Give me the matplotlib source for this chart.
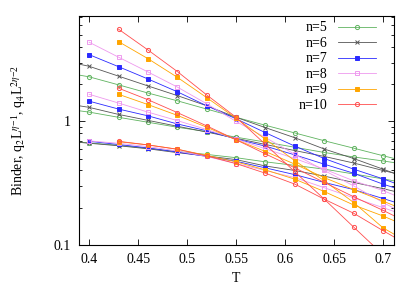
import numpy as np
import matplotlib
matplotlib.use("Agg")
import matplotlib.pyplot as plt
from matplotlib.ticker import LogLocator, NullFormatter, FixedLocator, FixedFormatter

plt.rcParams['font.family'] = ['Liberation Serif', 'DejaVu Serif']
plt.rcParams['mathtext.fontset'] = 'stix'

nan = np.nan
T = [0.37, 0.40, 0.43, 0.46, 0.49, 0.52, 0.55, 0.58, 0.61, 0.64, 0.67, 0.70, 0.73]
sizes = [5, 6, 7, 8, 9, 10]

# Binder cumulant
binder = {
    5:  [0.70, 0.67, 0.64, 0.605, 0.57, 0.54, 0.508, 0.47, 0.44, 0.41, 0.375, 0.342, 0.31],
    6:  [0.70, 0.665, 0.635, 0.60, 0.558, 0.525, 0.49, 0.435, 0.40, 0.36, 0.32, 0.285, 0.25],
    7:  [nan, 0.69, 0.65, 0.61, 0.565, 0.52, 0.475, 0.42, 0.37, 0.32, 0.28, 0.237, 0.20],
    8:  [nan, 0.695, 0.665, 0.625, 0.575, 0.52, 0.455, 0.40, 0.35, 0.29, 0.24, 0.20, 0.165],
    9:  [nan, nan, 0.685, 0.645, 0.595, 0.53, 0.47, 0.404, 0.34, 0.27, 0.21, 0.171, 0.135],
    10: [nan, nan, 0.69, 0.645, 0.595, 0.525, 0.455, 0.38, 0.31, 0.234, 0.18, 0.13, 0.095],
}
# q2 L^(eta-1)
q2 = {
    5:  [1.28, 1.19, 1.08, 0.985, 0.897, 0.826, 0.745, 0.68, 0.617, 0.56, 0.515, 0.478, 0.44],
    6:  [1.42, 1.30, 1.14, 1.02, 0.914, 0.82, 0.73, 0.65, 0.58, 0.52, 0.46, 0.40, 0.35],
    7:  [nan, 1.46, 1.26, 1.11, 0.954, 0.84, 0.72, 0.63, 0.535, 0.45, 0.38, 0.31, 0.26],
    8:  [nan, 1.66, 1.41, 1.19, 1.015, 0.86, 0.72, 0.60, 0.50, 0.41, 0.33, 0.275, 0.22],
    9:  [nan, nan, 1.66, 1.37, 1.12, 0.897, 0.71, 0.57, 0.45, 0.35, 0.28, 0.226, 0.18],
    10: [nan, nan, 1.86, 1.50, 1.18, 0.92, 0.71, 0.545, 0.42, 0.32, 0.245, 0.19, 0.145],
}
# q4 L^(2eta-2)
q4 = {
    5:  [2.53, 2.30, 1.98, 1.70, 1.47, 1.26, 1.08, 0.93, 0.806, 0.697, 0.607, 0.527, 0.46],
    6:  [3.15, 2.80, 2.33, 1.94, 1.62, 1.34, 1.08, 0.89, 0.737, 0.597, 0.50, 0.41, 0.335],
    7:  [nan, 3.48, 2.78, 2.21, 1.74, 1.34, 1.05, 0.81, 0.63, 0.50, 0.41, 0.342, 0.28],
    8:  [nan, 4.39, 3.32, 2.52, 1.90, 1.39, 1.00, 0.74, 0.54, 0.40, 0.30, 0.22, 0.165],
    9:  [nan, nan, 4.44, 3.23, 2.28, 1.56, 1.06, 0.717, 0.48, 0.33, 0.22, 0.137, 0.10],
    10: [nan, nan, 5.60, 3.80, 2.54, 1.64, 1.08, 0.65, 0.39, 0.234, 0.139, 0.083, 0.05],
}

colors = {5: '#5fb35f', 6: '#555555', 7: '#2a2aff', 8: '#ee99ee', 9: '#ffa500', 10: '#ff4d4d'}
markers = {5: 'o', 6: 'x', 7: 's', 8: 's', 9: 's', 10: 'o'}
filled = {5: False, 6: True, 7: True, 8: False, 9: True, 10: False}

fig = plt.figure(figsize=(4.15, 2.91), dpi=100)
ax = fig.add_axes([0.190, 0.159, 0.759, 0.787])

for n in sizes:
    c = colors[n]
    kw = dict(color=c, lw=0.6, marker=markers[n], ms=3.0, mew=0.7,
              mfc=c if filled[n] else 'none', mec=c)
    ax.plot(T, q4[n], label='n=%d' % n, **kw)
    ax.plot(T, q2[n], **kw)
    ax.plot(T, binder[n], **kw)

ax.set_yscale('log')
ax.set_xlim(0.3895, 0.711)
ax.set_ylim(0.1, 7.2)
ax.set_xticks([0.4, 0.45, 0.5, 0.55, 0.6, 0.65, 0.7])
ax.set_xticklabels(['0.4', '0.45', '0.5', '0.55', '0.6', '0.65', '0.7'])
ax.yaxis.set_major_locator(FixedLocator([0.1, 1]))
ax.yaxis.set_major_formatter(FixedFormatter(['0.1', '1']))
ax.yaxis.set_minor_locator(LogLocator(base=10, subs=np.arange(2, 10)))
ax.yaxis.set_minor_formatter(NullFormatter())
ax.tick_params(which='both', direction='in', top=True, right=True, labelsize=10, pad=6)
ax.tick_params(which='major', length=4, width=0.6)
ax.tick_params(which='minor', length=2.2, width=0.6)
for s in ax.spines.values():
    s.set_linewidth(0.8)

ax.set_xlabel('T', fontsize=10, labelpad=4)
ax.set_ylabel(r'Binder, q$_2$L$^{\eta\mathregular{-1}}$, q$_4$L$^{2\eta\mathregular{-2}}$',
              fontsize=10, labelpad=18)

ax.legend(loc='upper right', bbox_to_anchor=(0.943, 0.975), markerfirst=False,
          frameon=False, fontsize=10, handlelength=2.74, handletextpad=0.72,
          labelspacing=0.18, borderpad=0, borderaxespad=0)

fig.savefig('out.png', dpi=100)
